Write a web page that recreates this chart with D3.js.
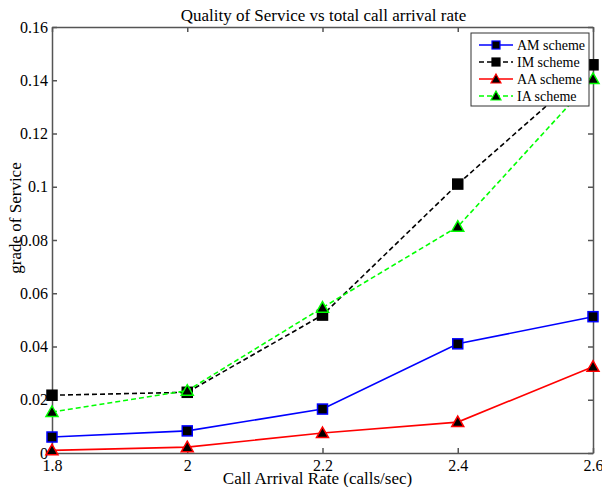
<!DOCTYPE html>
<html><head><meta charset="utf-8">
<script src="https://cdn.jsdelivr.net/npm/d3@7"></script>
<style>body{margin:0;background:#fff}svg{display:block}</style>
</head><body><svg id="c" width="602" height="487"></svg>
<script>
const xValues=[1.8,2.0,2.2,2.4,2.6];
const amValues=[0.0060,0.0083,0.0165,0.0410,0.0512];
const imValues=[0.0217,0.0228,0.0518,0.1010,0.1458];
const aaValues=[0.0010,0.0022,0.0075,0.0116,0.0324];
const iaValues=[0.0154,0.0234,0.0546,0.0850,0.1405];
const seriesNames=["AM scheme","IM scheme","AA scheme","IA scheme"];
const xTicks=[1.8,2,2.2,2.4,2.6];
const yTicks=[0,0.02,0.04,0.06,0.08,0.1,0.12,0.14,0.16];
const FONT="'Liberation Serif','Times New Roman',serif";

const series=[
 {name:seriesNames[0],vals:amValues,color:"#0000ff",dash:null,marker:"square"},
 {name:seriesNames[1],vals:imValues,color:"#000000",dash:"5,3",marker:"square"},
 {name:seriesNames[2],vals:aaValues,color:"#ff0000",dash:null,marker:"triangle"},
 {name:seriesNames[3],vals:iaValues,color:"#00ff00",dash:"5,3",marker:"triangle"}
];
const L=52,R=593,T=27,B=453;
const svg=d3.select("#c");
const x=d3.scaleLinear().domain([1.8,2.6]).range([L,R]);
const y=d3.scaleLinear().domain([0,0.16]).range([B,T]);
const axCol="#555";
svg.append("rect").attr("x",L).attr("y",T).attr("width",R-L).attr("height",B-T).attr("fill","#fff");
const fmt=d=>String(+d.toFixed(2));
const gx=svg.append("g").attr("transform",`translate(0,${B})`).call(d3.axisBottom(x).tickValues(xTicks).tickFormat(fmt).tickSizeInner(-5).tickSizeOuter(0));
const gxt=svg.append("g").attr("transform",`translate(0,${T})`).call(d3.axisTop(x).tickValues(xTicks).tickFormat("").tickSizeInner(-5).tickSizeOuter(0));
const gy=svg.append("g").attr("transform",`translate(${L},0)`).call(d3.axisLeft(y).tickValues(yTicks).tickFormat(fmt).tickSizeInner(-5).tickSizeOuter(0).tickPadding(4));
const gyr=svg.append("g").attr("transform",`translate(${R},0)`).call(d3.axisRight(y).tickValues(yTicks).tickFormat("").tickSizeInner(-5).tickSizeOuter(0));
[gx,gxt,gy,gyr].forEach(g=>{g.attr("font-family",null);g.selectAll("path,line").attr("stroke",axCol).attr("stroke-width",1.5);g.selectAll("text").attr("font-size",16).attr("fill","#000").style("font-family",FONT);});
gx.selectAll("text").attr("y",18).attr("dy","0");
gy.selectAll("text").attr("x",-4);
// lines
const line=d3.line().x((d,i)=>x(xValues[i])).y(d=>y(d));
function marker(g,type,cx,cy,color){
  if(type==="square"){
    g.append("rect").attr("x",cx-5).attr("y",cy-5).attr("width",10).attr("height",10).attr("fill","#000").attr("stroke",color).attr("stroke-width",1.5);
  }else{
    const s=6;
    g.append("path").attr("d",`M${cx},${cy-s}L${cx+s},${cy+s*0.75}L${cx-s},${cy+s*0.75}Z`).attr("fill","#000").attr("stroke",color).attr("stroke-width",1.5);
  }
}
series.forEach(s=>{
  svg.append("path").datum(s.vals).attr("d",line).attr("fill","none").attr("stroke",s.color).attr("stroke-width",1.6).attr("stroke-dasharray",s.dash);
  const g=svg.append("g");
  s.vals.forEach((v,i)=>marker(g,s.marker,x(xValues[i]),y(v),s.color));
});
// legend
const lg=svg.append("g");
lg.append("rect").attr("x",471).attr("y",33).attr("width",118).attr("height",73).attr("fill","#fff").attr("stroke","#333").attr("stroke-width",1);
series.forEach((s,i)=>{
  const ly=45+i*17;
  lg.append("line").attr("x1",479).attr("x2",513).attr("y1",ly).attr("y2",ly).attr("stroke",s.color).attr("stroke-width",1.6).attr("stroke-dasharray",s.dash);
  if(s.marker==="square") lg.append("rect").attr("x",492).attr("y",ly-4).attr("width",8).attr("height",8).attr("fill","#000").attr("stroke",s.color).attr("stroke-width",1.2);
  else lg.append("path").attr("d",`M496,${ly-5}L501,${ly+4}L491,${ly+4}Z`).attr("fill","#000").attr("stroke",s.color).attr("stroke-width",1.2);
  lg.append("text").attr("x",517).attr("y",ly+5).attr("font-size",14).style("font-family",FONT).text(s.name);
});
// titles
svg.append("text").attr("x",(L+R)/2+1).attr("y",21).attr("text-anchor","middle").attr("font-size",17).style("font-family",FONT).text("Quality of Service vs total call arrival rate");
svg.append("text").attr("x",(L+R)/2-5).attr("y",484).attr("text-anchor","middle").attr("font-size",17).style("font-family",FONT).text("Call Arrival Rate (calls/sec)");
svg.append("text").attr("transform",`translate(21,${218}) rotate(-90)`).attr("text-anchor","middle").attr("font-size",17).style("font-family",FONT).text("grade of Service");
</script></body></html>
